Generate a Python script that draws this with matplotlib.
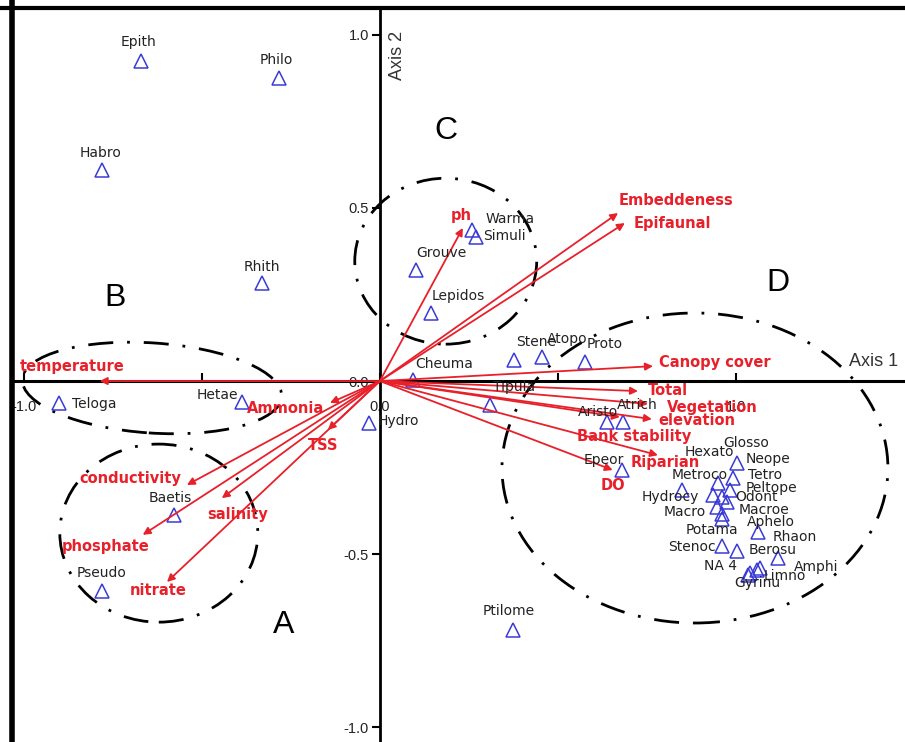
import matplotlib.pyplot as plt
from matplotlib.patches import Ellipse

# species scores (axis 1, axis 2)
species = ["Epith", "Philo", "Habro", "Rhith", "Teloga", "Hetae", "Baetis", "Pseudo",
           "Hydro", "Ptilome", "Grouve", "Lepidos", "Warma", "Simuli", "Cheuma", "Stene",
           "Atopo", "Proto", "Tipula", "Aristo", "Atrich", "Epeor", "Glosso", "Neope",
           "Hexato", "Tetro", "Metroco", "Odont", "Peltope", "Macro", "Macroe", "Potama",
           "Hydrocy", "Aphelo", "Stenoc", "Berosu", "Rhaon", "Amphi", "NA 4", "Limno", "Gyrinu"]
sp_x = [-0.671, -0.284, -0.781, -0.331, -0.902, -0.388, -0.579, -0.781,
        -0.031, 0.374, 0.101, 0.143, 0.258, 0.270, 0.093, 0.376,
        0.455, 0.576, 0.309, 0.638, 0.683, 0.680, 1.003, 0.992,
        0.949, 0.983, 0.935, 0.961, 0.975, 0.947, 0.961, 0.961,
        0.848, 1.062, 0.961, 1.003, 1.118, 1.067, 1.039, 1.059, 1.034]
sp_y = [0.924, 0.874, 0.609, 0.283, -0.063, -0.061, -0.387, -0.606,
        -0.121, -0.719, 0.320, 0.196, 0.436, 0.416, 0.003, 0.061,
        0.069, 0.055, -0.069, -0.118, -0.118, -0.257, -0.237, -0.280,
        -0.294, -0.315, -0.329, -0.335, -0.349, -0.364, -0.384, -0.398,
        -0.315, -0.436, -0.476, -0.491, -0.511, -0.540, -0.554, -0.545, -0.560]

# environmental variable arrows
env = ["temperature", "Ammonia", "TSS", "conductivity", "salinity", "phosphate",
       "nitrate", "ph", "Embeddeness", "Epifaunal", "Canopy cover", "Total",
       "Vegetation", "elevation", "Bank stability", "Riparian", "DO"]
env_x = [-0.787, -0.140, -0.146, -0.542, -0.444, -0.666, -0.598, 0.233, 0.669,
         0.688, 0.767, 0.725, 0.753, 0.764, 0.674, 0.781, 0.654]
env_y = [0.0, -0.063, -0.141, -0.300, -0.338, -0.444, -0.580, 0.442, 0.485,
         0.456, 0.043, -0.029, -0.066, -0.110, -0.104, -0.214, -0.257]

# species groups
groups = ["A", "B", "C", "D"]
grp_cx = [-0.621, -0.640, 0.185, 0.885]
grp_cy = [-0.439, -0.020, 0.346, -0.251]
grp_w = [0.556, 0.730, 0.511, 1.084]
grp_h = [0.514, 0.260, 0.479, 0.895]
grp_angle = [0, -4, 0, 0]
grp_lx = [-0.270, -0.744, 0.185, 1.118]
grp_ly = [-0.704, 0.240, 0.722, 0.283]

# label offsets in pixels from each point
sp_off = {"Epith": (-2, 19), "Philo": (-2, 18), "Habro": (-1, 17), "Rhith": (0, 16),
          "Teloga": (36, -1), "Hetae": (-24, 7), "Baetis": (-3, 17), "Pseudo": (0, 18),
          "Hydro": (30, 2), "Ptilome": (-4, 19), "Grouve": (26, 17), "Lepidos": (27, 17),
          "Warma": (38, 11), "Simuli": (28, 1), "Cheuma": (31, 16), "Stene": (22, 18),
          "Atopo": (25, 18), "Proto": (20, 18), "Tipula": (24, 18), "Aristo": (-9, 10),
          "Atrich": (14, 17), "Epeor": (-18, 10), "Glosso": (9, 20), "Neope": (35, 19),
          "Hexato": (-8, 31), "Tetro": (35, 15), "Metroco": (-13, 20), "Odont": (34, 0),
          "Peltope": (44, 14), "Macro": (-32, -5), "Macroe": (42, 4), "Potama": (-10, -11),
          "Hydrocy": (-11, -7), "Aphelo": (13, 10), "Stenoc": (-30, -1), "Berosu": (36, 1),
          "Rhaon": (17, 21), "Amphi": (56, 1), "NA 4": (-29, 7), "Limno": (28, -6),
          "Gyrinu": (9, -8)}
env_off = {"temperature": (-28, 15), "Ammonia": (-44, -6), "TSS": (-5, -16),
           "conductivity": (-57, 6), "salinity": (16, -16), "phosphate": (-37, -12),
           "nitrate": (-9, -9), "ph": (-2, 12), "Embeddeness": (58, 13),
           "Epifaunal": (48, 0), "Canopy cover": (62, 4), "Total": (30, 1),
           "Vegetation": (64, -4), "elevation": (45, -1), "Bank stability": (14, -19),
           "Riparian": (7, -7), "DO": (0, -15)}

red = "#e8202a"
blue = "#3a3ad8"

fig = plt.figure(figsize=(9.05, 7.42), dpi=100)
ax = fig.add_axes([0, 0, 1, 1])
ax.set_xlim(-1.067, 1.475)
ax.set_ylim(-1.042, 1.100)

# axes through the origin
for s in ["right", "top"]:
    ax.spines[s].set_visible(False)
ax.spines["left"].set_position("zero")
ax.spines["bottom"].set_position("zero")
ax.spines["left"].set_linewidth(2)
ax.spines["bottom"].set_linewidth(2.2)
ax.spines["bottom"].set_bounds(-1.034, 1.475)
ax.spines["left"].set_bounds(-1.042, 1.076)
ax.set_yticks([-1.0, -0.5, 0.0, 0.5, 1.0])
ax.set_yticklabels(["-1.0", "-0.5", "0.0", "0.5", "1.0"])
ax.set_xticks([-1.0, -0.5, 0.0, 0.5, 1.0])
ax.set_xticklabels(["-1.0", "", "0.0", "", "1.0"])
ax.tick_params(axis="y", direction="out", length=6, width=1.5, labelsize=10.5, pad=2)
ax.tick_params(axis="x", direction="in", length=6, width=1.5, labelsize=10.5, pad=14)
for t in ax.get_xticklabels() + ax.get_yticklabels():
    t.set_fontfamily("Liberation Sans")
    t.set_color("#222222")

# outer frame
ax.axvline(-1.034, color="black", lw=4)
ax.axhline(1.076, color="black", lw=3)

ax.text(0.05, 0.94, "Axis 2", rotation=90, ha="center", va="center", fontsize=13,
        family="Liberation Sans", color="#333333")
ax.text(1.387, 0.055, "Axis 1", ha="center", va="center", fontsize=13,
        family="Liberation Sans", color="#333333")

# group ellipses
for g, cx, cy, w, h, a, lx, ly in zip(groups, grp_cx, grp_cy, grp_w, grp_h, grp_angle, grp_lx, grp_ly):
    ax.add_patch(Ellipse((cx, cy), w, h, angle=a, fill=False, ec="black", lw=2,
                         ls=(0, (9, 5, 1, 5))))
    ax.text(lx, ly, g, ha="center", va="center", fontsize=23, family="Liberation Sans",
            color="black")

# environmental arrows
for name, x, y in zip(env, env_x, env_y):
    ax.annotate("", xy=(x, y), xytext=(0, 0),
                arrowprops=dict(arrowstyle="-|>", color=red, lw=1.3, mutation_scale=11,
                                shrinkA=0, shrinkB=0))
    ax.annotate(name, (x, y), xytext=env_off[name], textcoords="offset pixels",
                ha="center", va="center", fontsize=10.5, fontweight="bold", color=red)

# species
ax.plot(sp_x, sp_y, "^", ms=10, mfc="none", mec=blue, mew=1.1)
for name, x, y in zip(species, sp_x, sp_y):
    ax.annotate(name, (x, y), xytext=sp_off[name], textcoords="offset pixels",
                ha="center", va="center", fontsize=10, color="#222222")

fig.savefig("out.png", dpi=100)
